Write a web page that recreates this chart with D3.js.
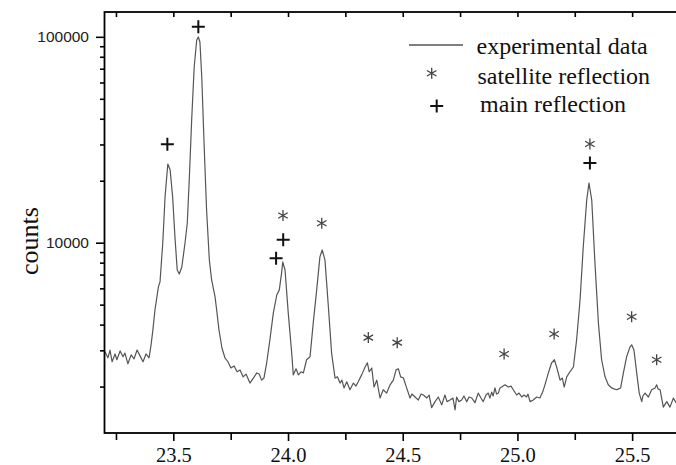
<!DOCTYPE html>
<html><head><meta charset="utf-8">
<script src="https://cdn.jsdelivr.net/npm/d3@7/dist/d3.min.js"></script>
<style>body{margin:0;background:#fff} svg{display:block}</style>
</head><body>
<svg id="c" width="676" height="465"></svg>
<script>
// ---- data ----
const twoTheta = [23.202,23.215,23.224,23.233,23.246,23.254,23.268,23.281,23.289,23.302,23.316,23.329,23.342,23.355,23.368,23.381,23.394,23.403,23.411,23.420,
23.435,23.442,23.454,23.464,23.476,23.486,23.497,23.507,23.517,23.526,23.537,23.551,23.561,23.570,23.580,23.591,23.602,23.609,23.616,23.624,
23.634,23.645,23.657,23.667,23.682,23.689,23.699,23.712,23.725,23.738,23.751,23.765,23.778,23.791,23.804,23.817,23.834,23.849,23.864,23.874,
23.885,23.895,23.907,23.921,23.936,23.951,23.962,23.972,23.977,23.987,24.001,24.016,24.023,24.035,24.045,24.057,24.067,24.081,24.096,24.110,
24.125,24.139,24.149,24.161,24.176,24.190,24.205,24.215,24.227,24.235,24.244,24.256,24.270,24.285,24.296,24.306,24.321,24.336,24.346,24.354,
24.365,24.375,24.387,24.401,24.415,24.430,24.445,24.459,24.471,24.481,24.491,24.503,24.517,24.532,24.540,24.554,24.568,24.580,24.590,24.605,
24.615,24.626,24.641,24.655,24.670,24.684,24.693,24.706,24.719,24.728,24.735,24.745,24.757,24.767,24.779,24.789,24.801,24.815,24.829,24.841,
24.851,24.863,24.873,24.880,24.888,24.894,24.902,24.909,24.917,24.924,24.931,24.946,24.960,24.972,24.982,24.997,25.007,25.019,25.029,25.040,
25.046,25.055,25.069,25.084,25.098,25.110,25.120,25.135,25.149,25.161,25.171,25.186,25.196,25.204,25.215,25.229,25.244,25.258,25.273,25.287,
25.302,25.312,25.324,25.338,25.353,25.367,25.382,25.396,25.411,25.421,25.433,25.441,25.450,25.462,25.476,25.491,25.498,25.508,25.520,25.531,
25.542,25.547,25.556,25.571,25.585,25.600,25.607,25.613,25.622,25.636,25.651,25.665,25.680,25.691];
const counts = [2950,2760,3010,2640,2880,2700,2980,2790,2910,2580,2850,2730,3010,2820,2640,2880,2760,3190,3770,4710,
6100,6450,9970,16700,24100,22600,16700,10700,7370,7050,7620,9970,12500,20900,39500,71400,96500,99800,94400,63800,
30500,14400,8250,6590,5450,4710,3770,3080,2760,2640,2460,2520,2360,2410,2230,2300,2080,2200,2330,2300,
2150,2200,2610,3370,4560,5570,5900,7130,8060,7370,4560,2910,2280,2440,2280,2360,2330,2700,2790,4080,
5900,8530,9220,8250,4870,2910,2200,2230,2080,2150,1970,2110,1930,2080,2010,2110,2280,2490,2610,2360,
2460,1990,2150,1760,1930,1860,2040,2150,2410,2440,2230,2200,1970,1760,1840,1780,1720,1840,1820,1760,
1820,1580,1690,1780,1630,1820,1690,1720,1760,1540,1780,1690,1720,1800,1690,1780,1760,1670,1860,1760,
1690,1820,1860,1760,1880,1800,1970,1840,1860,1970,1990,2040,1990,2010,1930,1820,1860,1780,1820,1780,
1840,1690,1720,1780,1760,1880,2040,2330,2610,2700,2490,2150,2200,1990,2230,2360,2490,3370,5270,9530,
16100,19500,16100,7970,4080,2700,2230,2040,1970,1950,1930,1950,1970,2330,2790,3120,3190,3010,2330,1860,
1690,1800,1860,1780,1930,1970,2040,1950,1930,1590,1690,1590,1760,1670];

const satelliteTheta = [23.978,24.147,24.350,24.476,24.942,25.160,25.316,25.498,25.607];
const satelliteCounts = [13560,12430,3460,3270,2880,3600,30170,4370,2700];
const mainTheta = [23.474,23.609,23.948,23.979,25.316];
const mainCounts = [30070,112000,8400,10330,24390];

const xTickValues = [23.25,23.5,23.75,24.0,24.25,24.5,24.75,25.0,25.25,25.5];
const xLabelTicks = [23.5,24.0,24.5,25.0,25.5];
const yMajorTicks = [10000,100000];
const yMinorTicks = [2000,3000,4000,5000,6000,7000,8000,9000,20000,30000,40000,50000,60000,70000,80000,90000];
const legendLabels = ["experimental data","satellite reflection","main reflection"];
const yTitle = "counts";

// ---- layout ----
const L = 104.5, R = 678, T = 12, B = 433;
const svg = d3.select("#c");
const x = d3.scaleLinear().domain([23.2, 25.7]).range([L, R]);
const y = d3.scaleLog().domain([1190, 132000]).range([B, T]);

svg.append("defs").append("clipPath").attr("id","clip")
  .append("rect").attr("x",L).attr("y",T).attr("width",R-L).attr("height",B-T);

const serif = "'Liberation Serif','Times New Roman',serif";
const sans = "'Liberation Sans',Arial,Helvetica,sans-serif";

// bottom axis
const gB = svg.append("g").attr("transform",`translate(0,${B})`)
  .call(d3.axisBottom(x).tickValues(xTickValues).tickSize(8).tickPadding(6.5)
        .tickFormat(d => xLabelTicks.some(v => Math.abs(v-d)<1e-9) ? d3.format(".1f")(d) : ""));
gB.select(".domain").remove();
gB.selectAll(".tick line").attr("stroke","#000").attr("stroke-width",1.6)
  .attr("y2", d => xLabelTicks.some(v => Math.abs(v-d)<1e-9) ? 8 : 7);
gB.selectAll(".tick text").attr("font-family",serif).attr("font-size",20.5).attr("fill","#111");

// top axis (inward ticks)
const gT = svg.append("g").attr("transform",`translate(0,${T})`)
  .call(d3.axisTop(x).tickValues(xTickValues).tickSize(-5).tickFormat(""));
gT.select(".domain").remove();
gT.selectAll(".tick line").attr("stroke","#000").attr("stroke-width",1.6);

// left axis
const gL = svg.append("g").attr("transform",`translate(${L},0)`)
  .call(d3.axisLeft(y).tickValues(yMajorTicks).tickSize(8.5).tickPadding(7).tickFormat(d3.format("d")));
gL.select(".domain").remove();
gL.selectAll(".tick line").attr("stroke","#000").attr("stroke-width",1.6);
gL.selectAll(".tick text").attr("font-family",sans).attr("font-size",15.5).attr("fill","#222");
const gLm = svg.append("g").attr("transform",`translate(${L},0)`)
  .call(d3.axisLeft(y).tickValues(yMinorTicks).tickSize(4.5).tickFormat(""));
gLm.select(".domain").remove();
gLm.selectAll(".tick line").attr("stroke","#000").attr("stroke-width",1.6);

// data line
const line = d3.line().x((d,i)=>x(twoTheta[i])).y((d,i)=>y(counts[i]));
svg.append("path").datum(counts).attr("clip-path","url(#clip)")
  .attr("d", line).attr("fill","none").attr("stroke","#555").attr("stroke-width",1.2)
  .attr("stroke-linejoin","round");

// frame
svg.append("rect").attr("x",L).attr("y",T).attr("width",R-L).attr("height",B-T)
  .attr("fill","none").attr("stroke","#000").attr("stroke-width",1.8);

// marker helpers
function plusPath(cx, cy, r){ return `M${cx-r},${cy}H${cx+r}M${cx},${cy-r}V${cy+r}`; }
function starPath(cx, cy, r){
  let p = `M${cx},${cy-r}V${cy+r}`;
  [30, -30].forEach(a => {
    const dx = r*Math.cos(a*Math.PI/180), dy = r*Math.sin(a*Math.PI/180);
    p += `M${cx-dx},${cy-dy}L${cx+dx},${cy+dy}`;
  });
  return p;
}

svg.append("g").selectAll("path").data(mainTheta).join("path")
  .attr("d",(d,i)=>plusPath(x(d), y(mainCounts[i]), 6.5))
  .attr("stroke","#111").attr("stroke-width",2).attr("fill","none");
svg.append("g").selectAll("path").data(satelliteTheta).join("path")
  .attr("d",(d,i)=>starPath(x(d), y(satelliteCounts[i]), 5.5))
  .attr("stroke","#444").attr("stroke-width",1.3).attr("fill","none");

// y title
svg.append("text").attr("transform","translate(38,241) rotate(-90)")
  .attr("text-anchor","middle").attr("font-family",serif).attr("font-size",26).attr("fill","#111")
  .text(yTitle);

// legend
const lg = svg.append("g");
lg.append("line").attr("x1",409).attr("x2",463).attr("y1",45).attr("y2",45)
  .attr("stroke","#555").attr("stroke-width",1.5);
lg.append("path").attr("d",starPath(431.7,73.3,5.5)).attr("stroke","#444").attr("stroke-width",1.3).attr("fill","none");
lg.append("path").attr("d",plusPath(436.7,106,6.5)).attr("stroke","#111").attr("stroke-width",2).attr("fill","none");
const lx = [476.5, 477.5, 480], ly = [54, 84, 112];
legendLabels.forEach((t,i)=>{
  lg.append("text").attr("x",lx[i]).attr("y",ly[i]).attr("font-family",serif)
    .attr("font-size",24).attr("fill","#111").text(t);
});
</script>
</body></html>
